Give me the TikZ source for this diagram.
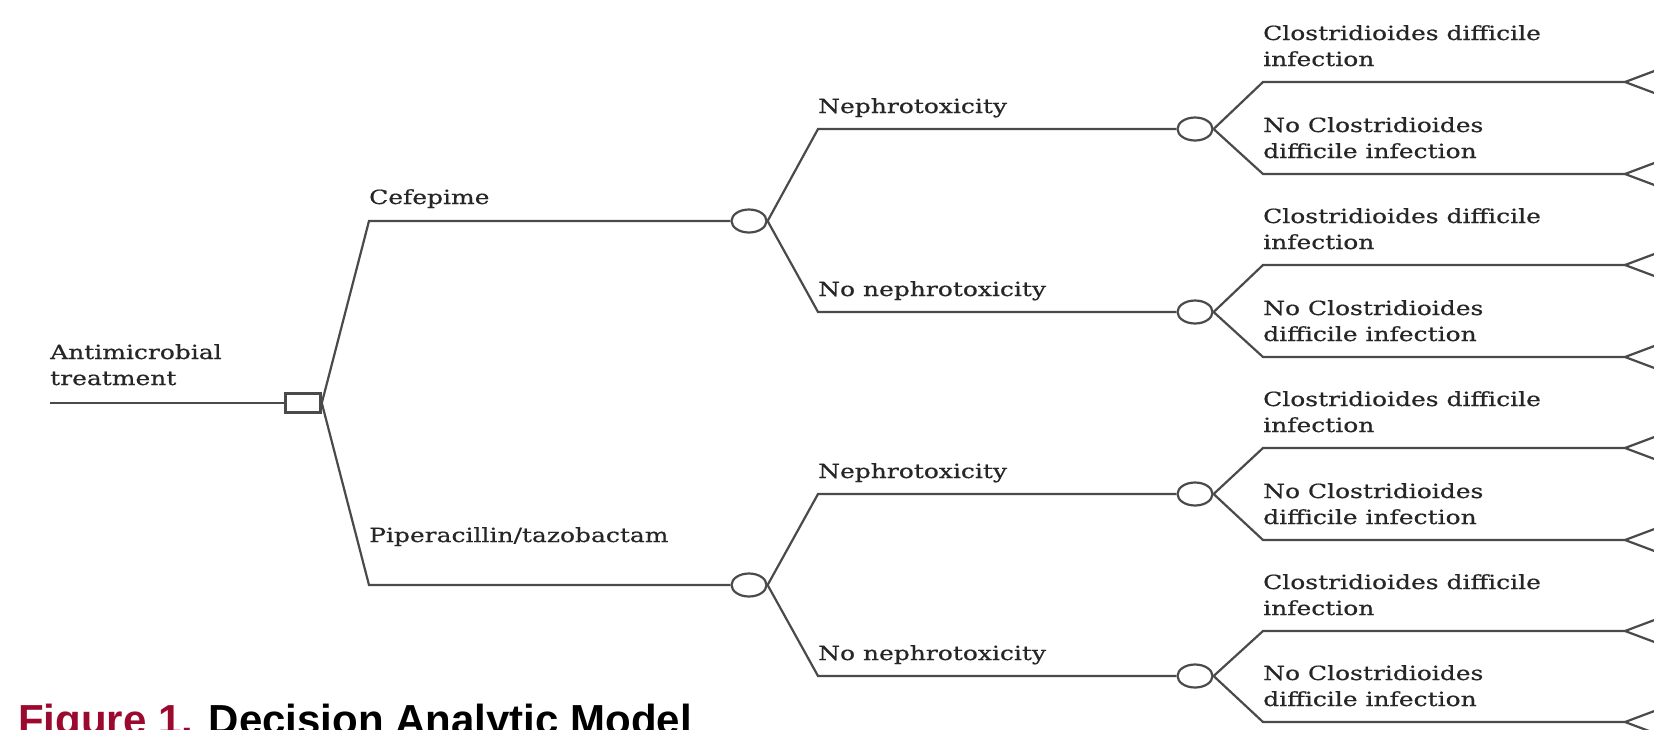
\documentclass[tikz,border=0pt]{standalone}
\usepackage{fontspec}
\setmainfont[FakeStretch=1.28, FakeBold=0.6]{DejaVu Serif}
\newfontfamily\capfont{Liberation Sans}
\usetikzlibrary{shapes.geometric, positioning}
\definecolor{treegray}{HTML}{4A4A4A}
\definecolor{figred}{HTML}{9B0A2E}

\begin{document}
\begin{tikzpicture}[
    x=1pt, y=-1pt,
    decision/.style={rectangle, draw=treegray, line width=2.6pt, minimum width=35pt, minimum height=19pt, inner sep=0pt},
    chance/.style={ellipse, draw=treegray, line width=2.2pt, minimum width=35pt, minimum height=23pt, inner sep=0pt},
    branch/.style={draw=treegray, line width=2.2pt},
    lbl/.style={anchor=base west, inner sep=0pt, align=left, text=black!85, font=\fontsize{19.5}{26}\selectfont}
]
\useasboundingbox (0,0) rectangle (1654,729);

% root and decision node
\coordinate (start) at (50,403);
\node[decision] (dec) at (303,403) {};
\draw[branch] (start) -- (dec.west);
\node[lbl] at (50,385) {Antimicrobial\\treatment};

% first level: treatments
\coordinate (k1) at (369,221);
\coordinate (k2) at (369,585);
\node[chance] (c1) at (749,221) {};
\node[chance] (c2) at (749,585) {};
\draw[branch] (dec.east) -- (k1) -- (c1.west);
\draw[branch] (dec.east) -- (k2) -- (c2.west);
\node[lbl] at (369,204) {Cefepime};
\node[lbl] at (369,542) {Piperacillin/tazobactam};

% second level: nephrotoxicity
\foreach \c/\n/\ya/\yb in {c1/1/129/312, c2/2/494/676} {
  \coordinate (k\n a) at (818,\ya);
  \coordinate (k\n b) at (818,\yb);
  \node[chance] (c\n a) at (1195,\ya) {};
  \node[chance] (c\n b) at (1195,\yb) {};
  \draw[branch] (\c.east) -- (k\n a) -- (c\n a.west);
  \draw[branch] (\c.east) -- (k\n b) -- (c\n b.west);
  \node[lbl] at (818,\ya-16) {Nephrotoxicity};
  \node[lbl] at (818,\yb-16) {No nephrotoxicity};
}

% third level: C. difficile and terminal nodes
\foreach \c/\ya/\yb in {c1a/82/174, c1b/265/357, c2a/448/540, c2b/631/722} {
  \coordinate (\c-ka) at (1263,\ya);
  \coordinate (\c-kb) at (1263,\yb);
  \coordinate (\c-ta) at (1625,\ya);
  \coordinate (\c-tb) at (1625,\yb);
  \draw[branch] (\c.east) -- (\c-ka) -- (\c-ta);
  \draw[branch] (\c.east) -- (\c-kb) -- (\c-tb);
  \draw[branch] ([xshift=40pt, yshift=15pt]\c-ta) -- (\c-ta) -- ([xshift=40pt, yshift=-15pt]\c-ta);
  \draw[branch] ([xshift=40pt, yshift=15pt]\c-tb) -- (\c-tb) -- ([xshift=40pt, yshift=-15pt]\c-tb);
  \node[lbl] at (1263,\ya-16) {Clostridioides difficile\\infection};
  \node[lbl] at (1263,\yb-16) {No Clostridioides\\difficile infection};
}

% caption
\node[anchor=base west, inner sep=0pt, font=\capfont\bfseries\fontsize{42}{48}\selectfont] (cap) at (18,734)
  {\textcolor{figred}{Figure 1.} Decision Analytic Model};
\end{tikzpicture}
\end{document}
